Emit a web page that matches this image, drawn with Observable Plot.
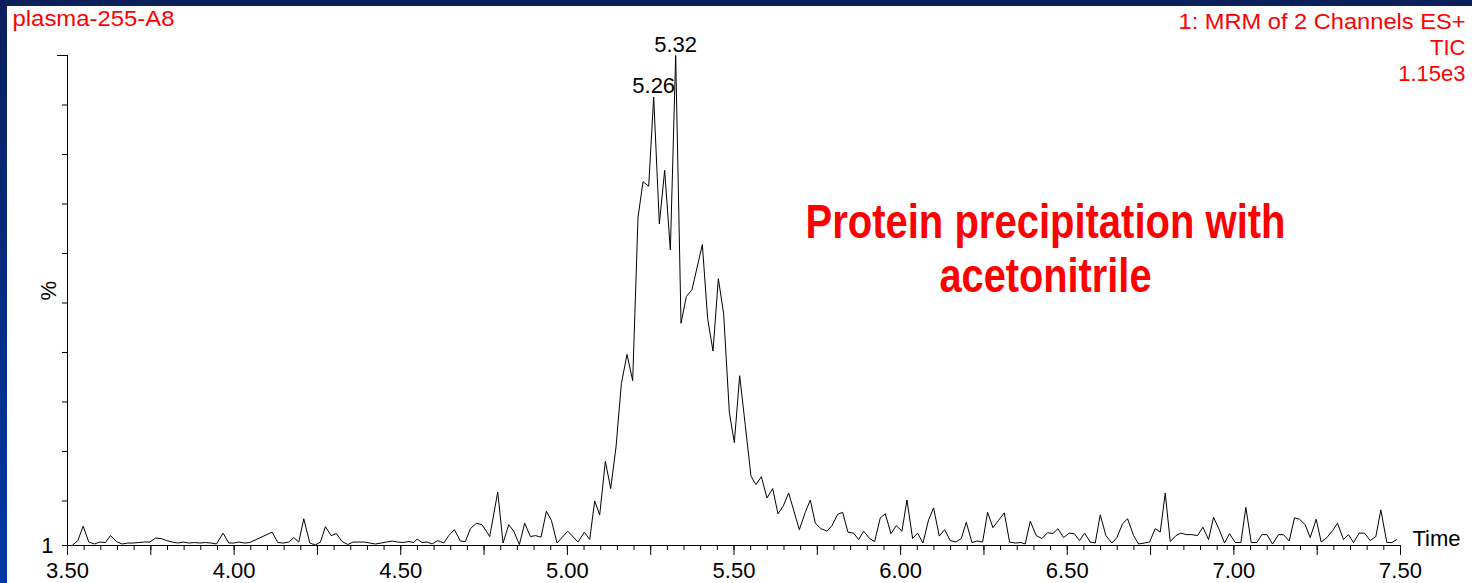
<!DOCTYPE html>
<html>
<head>
<meta charset="utf-8">
<script src="https://cdn.jsdelivr.net/npm/d3@7"></script>
<script src="https://cdn.jsdelivr.net/npm/@observablehq/plot@0.6"></script>
<style>
html, body { margin: 0; padding: 0; background: #fff; overflow: hidden; }
#wrap { position: relative; width: 1472px; height: 583px; }
#chart { position: absolute; left: 0; top: 0; }
#topbar { position: absolute; left: 0; top: 0; width: 1472px; height: 6px; background: #0b1f5b; }
#leftbar { position: absolute; left: 0; top: 0; width: 7px; height: 583px; background: linear-gradient(#0b1f5b, #0039a6); }
</style>
</head>
<body>
<div id="wrap"><div id="chart"></div><div id="topbar"></div><div id="leftbar"></div></div>
<script>
// ---- data (retention time in minutes, intensity in %) ----
const times = [
  3.514,3.531,3.547,3.564,3.581,3.597,3.614,3.629,3.647,3.664,3.681,3.697,3.714,3.731,3.747,3.764,3.781,3.797,3.814,3.831,
  3.847,3.864,3.881,3.897,3.914,3.931,3.947,3.967,3.984,3.999,4.014,4.031,4.047,
  4.114,4.131,4.147,4.164,4.179,4.194,4.209,4.227,4.244,4.259,4.274,4.291,4.307,4.324,4.341,4.357,4.374,4.391,4.407,4.424,
  4.441,4.457,4.474,4.491,4.507,4.524,4.539,4.549,4.564,4.579,4.594,4.611,4.629,4.644,4.661,4.679,4.694,4.709,4.727,4.744,
  4.767,4.791,
  4.807,4.824,4.839,4.856,4.872,4.889,4.904,4.921,4.937,4.952,4.969,
  5.001,5.032,5.051,5.067,5.082,5.097,5.114,5.130,5.146,5.162,5.179,5.196,5.212,5.227,5.244,5.259,5.276,5.292,5.309,5.325,
  5.341,5.357,5.374,
  5.405,5.421,5.437,5.453,5.469,5.486,5.501,5.517,5.534,5.551,5.566,5.582,5.599,5.616,5.632,5.648,5.664,
  5.696,5.714,5.729,5.744,5.761,5.779,5.794,5.811,5.826,5.842,5.859,5.874,5.889,5.907,5.922,5.939,5.954,5.971,5.987,
  6.004,6.019,6.036,6.051,6.067,6.084,6.099,6.116,6.132,6.149,6.166,6.182,6.197,6.214,6.229,6.246,6.261,6.277,6.294,6.311,
  6.327,6.344,6.361,6.374,6.389,6.407,6.424,6.441,6.457,6.472,6.489,6.506,6.521,6.537,6.552,6.569,6.584,6.599,6.616,6.634,
  6.649,6.666,6.681,6.699,6.714,6.731,6.747,6.764,6.779,6.794,6.809,6.826,6.841,6.857,6.874,6.891,6.907,6.924,6.939,6.956,
  6.972,6.987,7.004,7.021,7.036,7.052,7.069,7.084,7.099,7.116,7.134,7.149,7.166,7.182,7.197,7.214,7.229,7.247,7.262,7.279,
  7.296,7.311,7.329,7.344,7.359,7.376,7.392,7.409,7.426,7.441,7.459,7.474,7.489
];
const intensity = [
  1.0,2.0,4.9,1.7,1.3,1.7,1.6,3.0,1.8,1.3,1.5,1.5,1.6,1.7,1.7,2.5,2.4,2.0,1.7,1.5,
  1.7,1.5,1.6,1.5,1.6,1.5,1.3,3.5,1.5,1.5,1.7,1.5,1.6,
  3.7,1.6,1.5,1.7,2.6,1.7,6.4,1.5,1.1,1.7,4.8,3.0,3.4,1.8,1.2,1.7,1.7,1.7,1.5,1.3,
  1.5,1.7,1.9,1.7,1.6,1.8,1.6,2.3,1.6,1.7,1.3,2.0,1.5,3.0,4.2,1.9,1.8,4.4,5.5,5.2,
  2.8,11.8,
  1.5,5.2,3.9,1.2,5.5,2.8,3.0,2.7,7.9,6.1,1.5,
  3.9,1.7,3.7,2.2,10.0,7.2,18.0,12.5,20.9,33.7,39.6,34.3,67.3,74.5,73.6,91.6,66.0,76.8,60.7,100,
  45.9,51.3,52.7,
  61.8,46.8,40.3,54.9,47.8,27.9,21.8,35.3,25.2,15.0,13.3,14.9,10.6,12.5,7.4,9.0,11.6,
  4.2,7.7,10.2,5.5,4.4,3.9,5.0,7.3,7.7,3.7,3.5,2.2,3.9,2.4,1.8,6.6,7.4,3.4,5.0,
  3.9,10.2,2.4,3.5,1.5,6.2,8.6,2.9,4.2,2.0,1.7,2.4,5.7,1.6,1.9,1.7,7.7,4.6,6.1,7.6,
  1.7,1.5,1.6,1.3,5.9,3.0,2.4,3.6,3.4,4.4,2.6,3.5,3.4,2.0,3.5,1.7,1.5,7.2,3.0,1.5,
  2.6,5.4,6.4,3.0,1.3,1.5,1.7,4.4,3.7,11.6,1.8,3.0,3.5,3.2,3.2,3.0,4.7,2.2,6.7,4.2,
  1.5,3.4,1.6,1.6,8.7,1.6,1.6,3.2,3.2,1.3,3.2,3.2,1.9,6.6,6.3,5.2,2.6,6.3,1.7,2.6,
  4.0,5.5,2.2,3.2,1.6,3.5,3.5,2.0,2.8,8.2,1.6,1.6,2.2
];
const peakTimes = [5.259, 5.325];
const peakLabels = ["5.26", "5.32"];
const xLabelTicks = [3.5, 4.0, 4.5, 5.0, 5.5, 6.0, 6.5, 7.0, 7.5];
const xMajorTicks = [3.5, 3.75, 4.0, 4.25, 4.5, 4.75, 5.0, 5.25, 5.5, 5.75, 6.0, 6.25, 6.5, 6.75, 7.0, 7.25, 7.5];
const xMinorTicks = d3.range(0, 81).map(i => Math.round((3.5 + i * 0.05) * 100) / 100);
const yTicks = [10, 20, 30, 40, 50, 60, 70, 80, 90, 100];
const yTopTick = [100];
const yBaseTick = [1];
const yBaseLabel = "1";
const yAxisLabel = "%";
const xAxisLabel = "Time";
const headerLeft = "plasma-255-A8";
const headerRight = ["1: MRM of 2 Channels ES+", "TIC", "1.15e3"];
const titleLines = ["Protein precipitation with", "acetonitrile"];

// ---- build ----
const series = times.map((t, i) => ({t, pct: intensity[i]}));
const peaks = peakTimes.map((t, i) => ({t, pct: intensity[times.indexOf(t)], label: peakLabels[i]}));
const RED = "#ff0000";

const plot = Plot.plot({
  width: 1472,
  height: 583,
  marginLeft: 67,
  marginRight: 72,
  marginTop: 55,
  marginBottom: 38,
  x: {domain: [3.5, 7.5]},
  y: {domain: [1, 100]},
  style: {fontFamily: "'Liberation Sans', Arial, sans-serif", fontSize: "22px", background: "white", color: "black"},
  marks: [
    Plot.axisX({ticks: xMinorTicks, tickSize: 5, tickFormat: () => "", label: null}),
    Plot.axisX({ticks: xMajorTicks, tickSize: 10, tickFormat: () => "", label: null}),
    Plot.axisX({ticks: xLabelTicks, tickSize: 0, tickPadding: 17, tickFormat: d3.format(".2f"), label: null, fontSize: 22}),
    Plot.axisY({ticks: yTicks, tickSize: 5, tickFormat: () => "", label: null}),
    Plot.axisY({ticks: yTopTick, tickSize: 10, tickFormat: () => "", label: null}),
    Plot.axisY({ticks: yBaseTick, tickSize: 5, tickPadding: 9, tickFormat: () => yBaseLabel, label: null, fontSize: 22}),
    Plot.ruleX([3.5]),
    Plot.ruleY([1]),
    Plot.line(series, {x: "t", y: "pct", stroke: "black", strokeWidth: 1}),
    Plot.text(peaks, {x: "t", y: "pct", text: "label", dy: -4, lineAnchor: "bottom", fontSize: 22, fill: "black"}),
    Plot.text([yAxisLabel], {text: d => d, frameAnchor: "left", rotate: -90, dx: -19, fontSize: 22}),
    Plot.text([xAxisLabel], {text: d => d, frameAnchor: "bottom-right", textAnchor: "start", dx: 12, fontSize: 22}),
    Plot.text([headerLeft], {text: d => d, frameAnchor: "top-left", textAnchor: "start", lineAnchor: "top", dx: -55, dy: -45, fontSize: 22, fill: RED}),
    Plot.text([headerRight.join("\n")], {text: d => d, frameAnchor: "top-right", textAnchor: "end", lineAnchor: "top", lineHeight: 26 / 22, dx: 65, dy: -45, fontSize: 22, fill: RED}),
    Plot.text([titleLines[0]], {text: d => d, frameAnchor: "top-left", textAnchor: "middle", lineAnchor: "top", dx: 978, dy: 148, fontSize: 48, fontWeight: "bold", fill: RED}),
    Plot.text([titleLines[1]], {text: d => d, frameAnchor: "top-left", textAnchor: "middle", lineAnchor: "top", dx: 978, dy: 202, fontSize: 48, fontWeight: "bold", fill: RED})
  ]
});

// fit a few texts to the widths seen in the reference
const fitWidths = new Map([[titleLines[0], 480], [titleLines[1], 212], [headerLeft, 162], [headerRight[0], 287]]);
d3.select(plot).selectAll("text, tspan").each(function() {
  if (this.children.length) return;
  const w = fitWidths.get(this.textContent);
  if (w) { this.setAttribute("textLength", w); this.setAttribute("lengthAdjust", "spacingAndGlyphs"); }
});

document.getElementById("chart").appendChild(plot);
</script>
</body>
</html>
